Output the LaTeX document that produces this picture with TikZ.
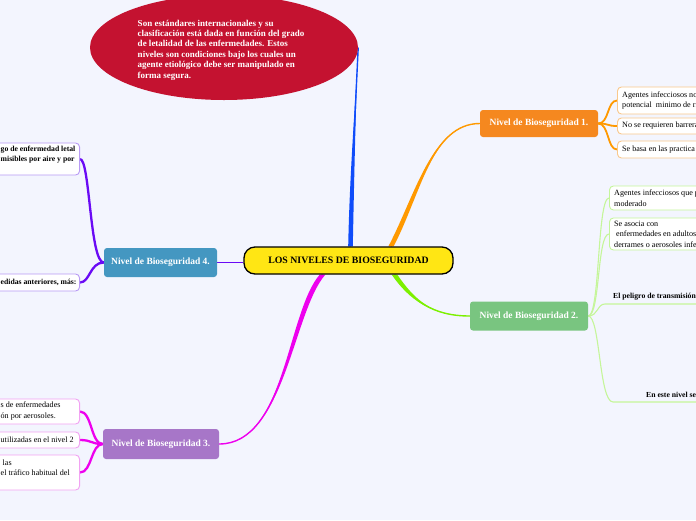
\documentclass[tikz,border=0pt]{standalone}
\usepackage{fontspec}
\setmainfont{Liberation Serif}
\usetikzlibrary{shapes.geometric,calc}
\definecolor{bgc}{HTML}{F3F5FE}
\definecolor{redc}{HTML}{C41230}
\definecolor{bluec}{HTML}{0F4CFA}
\definecolor{orc}{HTML}{FF9900}
\definecolor{orf}{HTML}{F5881F}
\definecolor{orb}{HTML}{F9C88C}
\definecolor{grc}{HTML}{7CF000}
\definecolor{grf}{HTML}{79C580}
\definecolor{grb}{HTML}{C5F59A}
\definecolor{mgc}{HTML}{EE00EE}
\definecolor{mgf}{HTML}{A776C8}
\definecolor{mgb}{HTML}{F2A2F2}
\definecolor{vic}{HTML}{6A0AF5}
\definecolor{vif}{HTML}{4497C1}
\definecolor{vib}{HTML}{B89AF5}
\definecolor{yel}{HTML}{FFE614}
\pgfdeclarelayer{back}
\pgfdeclarelayer{conn}
\pgfsetlayers{back,conn,main}
\newcommand\taper[6]{%
  \fill[#1] ($(#2)+(-#6,0)$) .. controls ($(#3)+(-#6,0)$) and (#4) .. (#5)
     .. controls (#4) and ($(#3)+(#6,0)$) .. ($(#2)+(#6,0)$) -- cycle;
  \draw[#1,line width=1.4] (#2) .. controls (#3) and (#4) .. (#5);}
\begin{document}
\begin{tikzpicture}[x=1pt,y=-1pt,
  levelnode/.style={rounded corners=3, text=white, font=\bfseries\fontsize{9.5}{11}\selectfont, inner sep=0},
  boxr/.style={draw, fill=white, rounded corners=4, line width=0.9, inner sep=0, minimum width=130, anchor=west},
  boxl/.style={draw, fill=white, rounded corners=4, line width=0.9, inner sep=0, minimum width=110, anchor=east},
  btxt/.style={align=left, anchor=west, inner sep=0, font=\fontsize{8.1}{10.5}\selectfont},
  boldtxt/.style={align=left, anchor=west, inner sep=0, font=\bfseries\fontsize{7.7}{9.5}\selectfont}]
\useasboundingbox (0,0) rectangle (696,520);
\begin{pgfonlayer}{back}
\fill[bgc] (0,0) rectangle (696,520);
\end{pgfonlayer}
\begin{scope}
\clip (0,0) rectangle (696,520);
% central
\node[draw=black, line width=1.3, fill=yel, rounded corners=11, minimum width=209, minimum height=27, inner sep=0, font=\bfseries\fontsize{9.8}{12}\selectfont] (central) at (348.5,260.5) {LOS NIVELES DE BIOSEGURIDAD};
% red ellipse
\node[ellipse, fill=redc, minimum width=268, minimum height=105, inner sep=0] (red) at (224,47.5) {};
\node[font=\bfseries\fontsize{9}{10.4}\selectfont, text=white, align=left, inner sep=0] (redtext) at (221,50) {Son estándares internacionales y su\\clasificación está dada en función del grado\\de letalidad de las enfermedades. Estos\\niveles son condiciones bajo los cuales un\\agente etiológico debe ser manipulado en\\forma segura.};
% level nodes
\node[levelnode, fill=orf, minimum width=118, minimum height=27] (l1) at (539,123.5) {Nivel de Bioseguridad 1.};
\node[levelnode, fill=grf, minimum width=118, minimum height=29] (l2) at (529,316) {Nivel de Bioseguridad 2.};
\node[levelnode, fill=vif, minimum width=113, minimum height=29] (l4) at (160.5,262.5) {Nivel de Bioseguridad 4.};
\node[levelnode, fill=mgf, minimum width=116, minimum height=30] (l3) at (161,444) {Nivel de Bioseguridad 3.};
% level 1 children
\node[boxr, draw=orb, minimum height=27] (a1) at (617,100.5) {};
\node[btxt] (a1t) at (622,100.5) {Agentes infecciosos no\\potencial\ \ minimo de ri};
\node[boxr, draw=orb, minimum height=16] (a2) at (617,126) {};
\node[btxt] (a2t) at (622,126) {No se requieren barrera};
\node[boxr, draw=orb, minimum height=17] (a3) at (617,149.5) {};
\node[btxt] (a3t) at (622,149.5) {Se basa en las practica};
% level 2 children
\node[boxr, draw=grb, minimum height=24] (b1) at (609,198) {};
\node[btxt] (b1t) at (614,198) {Agentes infecciosos que p\\moderado};
\node[boxr, draw=grb, minimum height=32] (b2) at (609,234) {};
\node[btxt] (b2t) at (614,234) {Se asocia con\\\ enfermedades en adultos\\derrames o aerosoles infec};
\node[boldtxt] (b3) at (613,296.5) {El peligro de transmisión p};
\node[boldtxt] (b4) at (646,395) {En este nivel se};
\coordinate (b3l) at (605,304);
\coordinate (b4l) at (613,402);
% level 4 children
\node[boxl, draw=vib, minimum height=32] (d1) at (80,159) {};
\node[boldtxt] (d1t) at (0.5,154.5) {go de enfermedad letal\\misibles por aire y por};
\node[boxl, draw=vib, minimum height=17] (d2) at (80,282.5) {};
\node[boldtxt] (d2t) at (0.5,282.5) {edidas anteriores, más:};
% level 3 children
\node[boxl, draw=mgb, minimum height=25] (c1) at (80,411.5) {};
\node[btxt] (c1t) at (0.5,411) {s de enfermedades\\ón por aerosoles.};
\node[boxl, draw=mgb, minimum height=16] (c2) at (80,440) {};
\node[btxt] (c2t) at (0.5,440) {utilizadas en el nivel 2};
\node[boxl, draw=mgb, minimum height=35] (c3) at (80,472.5) {};
\node[btxt] (c3t) at (0.5,467.5) {\ las\\el tráfico habitual del};
\end{scope}
\begin{pgfonlayer}{conn}
\clip (0,0) rectangle (696,520);
% main connectors
\coordinate (bs) at ([xshift=2]central.north);
\coordinate (bc1) at (352,170);
\coordinate (bc2) at (356,95);
\taper{bluec}{bs}{bc1}{bc2}{red.east}{2.3}
\coordinate (os) at ([xshift=42.5]central.north);
\coordinate (oc1) at (418,195);
\coordinate (oc2) at (432,123.5);
\taper{orc}{os}{oc1}{oc2}{l1.west}{2.6}
\coordinate (gs) at ([xshift=46]central.south);
\coordinate (gc1) at (412,300);
\coordinate (gc2) at (432,316);
\taper{grc}{gs}{gc1}{gc2}{l2.west}{2.8}
\coordinate (ms) at ([xshift=-26]central.south);
\coordinate (mc1) at (290,312);
\coordinate (mc2) at (285,444);
\taper{mgc}{ms}{mc1}{mc2}{l3.east}{2.8}
\draw[vic, line width=1] (l4.east) -- (central.west |- l4.east);
% level 1 branches
\foreach \t in {a1,a2,a3}
  \draw[orc, line width=1.8] (l1.east) .. controls +(11,0) and +(-10,0) .. (\t.west);
% level 2 branches
\foreach \t in {b1,b2}
  \draw[grb, line width=1.1] (l2.east) .. controls +(12,0) and +(-12,0) .. (\t.west);
\draw[grb, line width=1.1] (l2.east) .. controls +(10,0) and +(-8,0) .. (b3l) -- ++(100,0);
\draw[grb, line width=1.1] (l2.east) .. controls +(12,0) and +(-14,0) .. (b4l) -- ++(100,0);
% level 4 branches
\foreach \t in {d1,d2}
  \draw[vic, line width=2.3] (l4.west) .. controls +(-14,0) and +(10,0) .. (\t.east);
% level 3 branches
\foreach \t in {c1,c2,c3}
  \draw[mgc, line width=2.3] (l3.west) .. controls +(-12,0) and +(12,0) .. (\t.east);
\end{pgfonlayer}
\end{tikzpicture}
\end{document}
